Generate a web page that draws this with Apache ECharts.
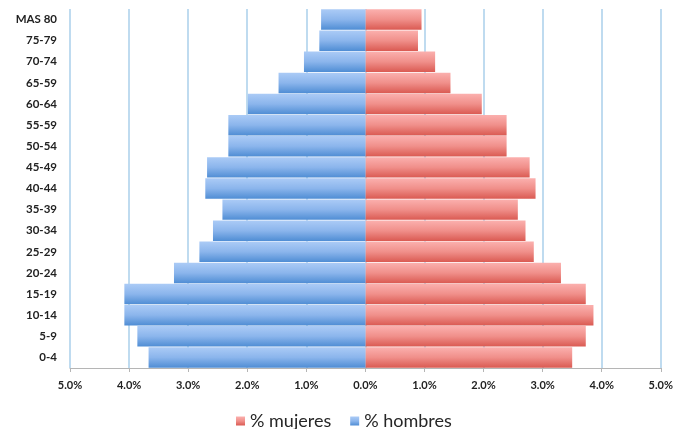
<!DOCTYPE html>
<html>
<head>
<meta charset="utf-8">
<script src="https://cdn.jsdelivr.net/npm/echarts@6/dist/echarts.min.js"></script>
<style>html,body{margin:0;padding:0;background:#fff}#c{width:676px;height:429px}</style>
</head>
<body>
<div id="c"></div>
<script>
var categories = ['0-4','5-9','10-14','15-19','20-24','25-29','30-34','35-39','40-44','45-49','50-54','55-59','60-64','65-59','70-74','75-79','MAS 80'];
var mujeres = [3.50, 3.73, 3.86, 3.73, 3.31, 2.85, 2.71, 2.58, 2.88, 2.78, 2.39, 2.39, 1.97, 1.44, 1.18, 0.89, 0.95];
var hombres = [3.67, 3.86, 4.08, 4.08, 3.24, 2.81, 2.58, 2.42, 2.71, 2.68, 2.32, 2.32, 1.99, 1.47, 1.04, 0.78, 0.75];
var tickValues = [-5, -4, -3, -2, -1, 0, 1, 2, 3, 4, 5];

var chart = echarts.init(document.getElementById('c'), null, {renderer: 'canvas'});
var redGrad = new echarts.graphic.LinearGradient(0, 0, 0, 1, [
  {offset: 0, color: '#fbb0ae'},
  {offset: 0.5, color: '#f08f8a'},
  {offset: 1, color: '#da5a52'}
]);
var blueGrad = new echarts.graphic.LinearGradient(0, 0, 0, 1, [
  {offset: 0, color: '#abcbf6'},
  {offset: 0.5, color: '#8bb5ec'},
  {offset: 1, color: '#4f8dd4'}
]);
var font = 'Lato, "Liberation Sans", sans-serif';
chart.setOption({
  animation: false,
  textStyle: {fontFamily: font},
  grid: {left: 70, right: 14, top: 9, bottom: 61, containLabel: false},
  legend: {
    data: ['% mujeres', '% hombres'],
    left: 236, top: 412, padding: 0,
    itemWidth: 9, itemHeight: 9, itemGap: 19,
    icon: 'rect',
    textStyle: {fontSize: 18, color: '#262626', fontFamily: font}
  },
  xAxis: {
    type: 'value', min: tickValues[0], max: tickValues[tickValues.length - 1], interval: 1,
    axisLine: {show: true, onZero: false, lineStyle: {color: '#b5b5b5', width: 1}},
    axisTick: {show: true, length: 4, lineStyle: {color: '#b5b5b5'}},
    axisLabel: {
      margin: 12, fontSize: 11, fontWeight: 'bold', color: '#222', fontFamily: font,
      formatter: function (v) { return Math.abs(v).toFixed(1) + '%'; }
    },
    splitLine: {show: true, lineStyle: {color: '#afd2ec', width: 1.6}}
  },
  yAxis: {
    type: 'category', data: categories,
    axisLine: {show: false}, axisTick: {show: false},
    axisLabel: {margin: 13, fontSize: 11.5, fontWeight: 'bold', color: '#222', fontFamily: font}
  },
  series: [
    {
      name: '% mujeres', type: 'bar', data: mujeres,
      barGap: '-100%', barCategoryGap: '3%',
      itemStyle: {color: redGrad}
    },
    {
      name: '% hombres', type: 'bar', data: hombres.map(function (v) { return -v; }),
      barGap: '-100%', barCategoryGap: '3%',
      itemStyle: {color: blueGrad}
    }
  ]
});
</script>
</body>
</html>
